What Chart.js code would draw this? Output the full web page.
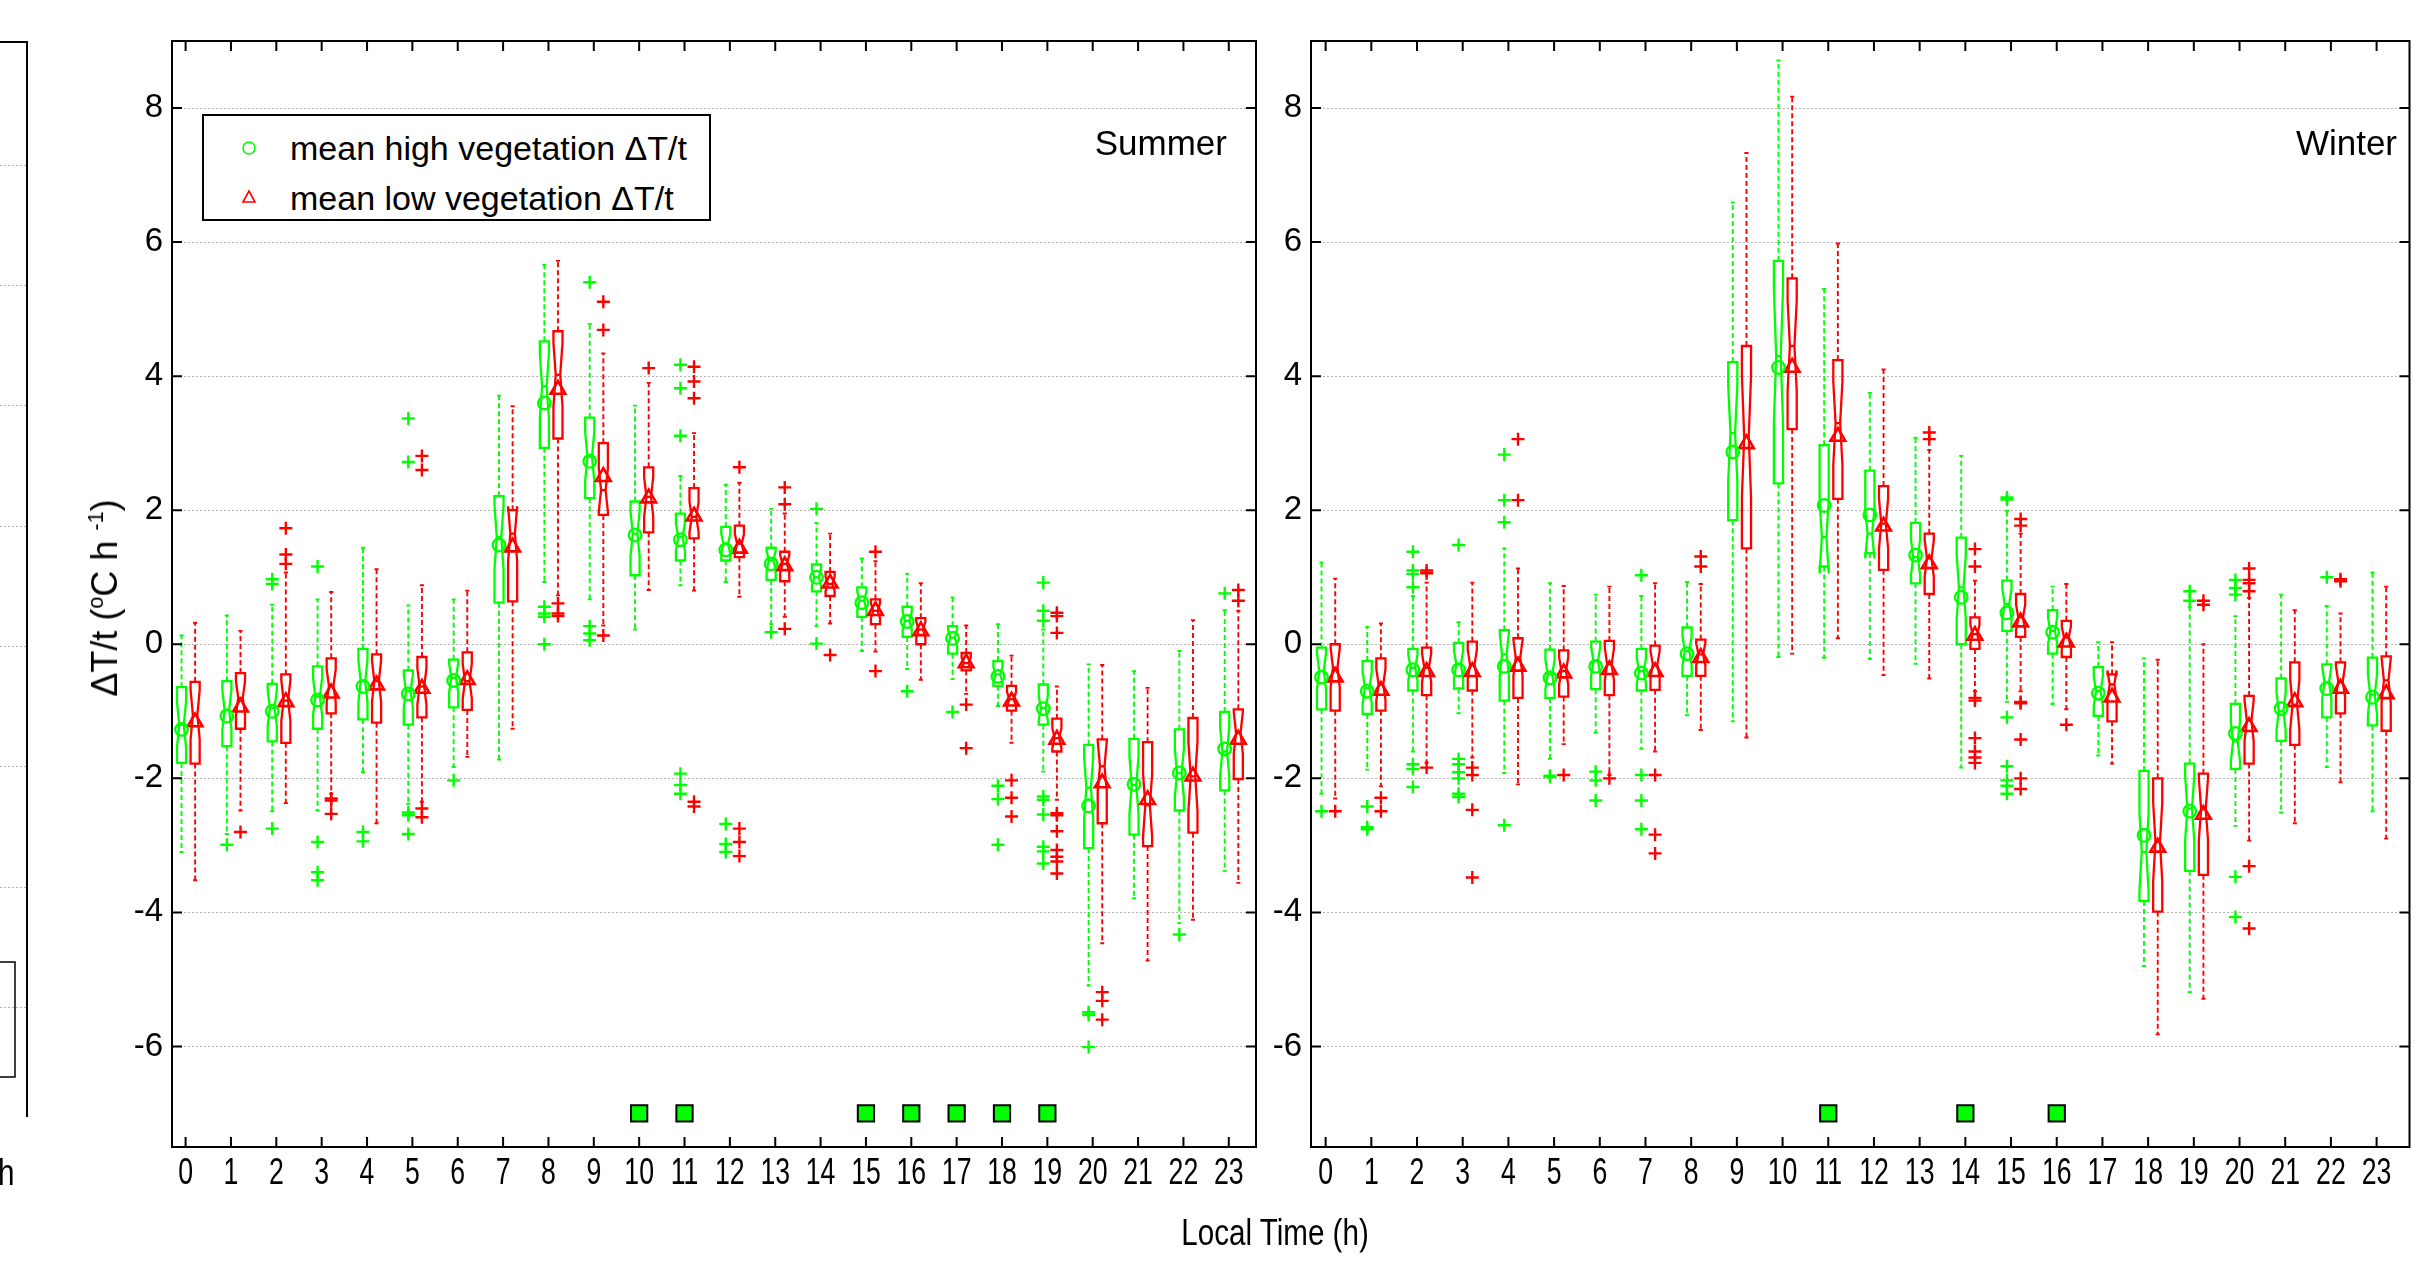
<!DOCTYPE html>
<html><head><meta charset="utf-8">
<script src="https://cdn.jsdelivr.net/npm/chart.js@4.4.1/dist/chart.umd.min.js"></script>
<style>
html,body{margin:0;padding:0;background:#fff;width:2423px;height:1263px;overflow:hidden;position:relative;font-family:'Liberation Sans',Arial,sans-serif;color:#000;}
.wrap{position:absolute;top:0;height:1263px;}
.txt{position:absolute;white-space:nowrap;line-height:1;}
sup{font-size:0.6em;vertical-align:0.65em;line-height:0;}
#legend{position:absolute;left:202px;top:114px;width:509px;height:107px;box-sizing:border-box;border:2px solid #000;background:#fff;font-size:34px;}
#legend .row{position:absolute;left:0;height:40px;display:flex;align-items:center;}
#legend svg{position:absolute;left:33px;}
#legend span{position:absolute;left:86px;white-space:nowrap;}
</style></head><body>
<canvas id="sliver" width="40" height="1263" style="position:absolute;left:0;top:0"></canvas>
<div class="wrap" style="left:0;width:1275px"><canvas id="sumChart"></canvas></div>
<div class="wrap" style="left:1200px;width:1223px"><canvas id="winChart"></canvas></div>

<div class="txt" style="left:105px;top:598px;transform:translate(-50%,-50%) rotate(-90deg);font-size:36px;">ΔT/t (<sup>o</sup>C h <sup>-1</sup>)</div>
<div class="txt" style="left:1275px;top:1232px;transform:translate(-50%,-50%) scaleX(0.8);font-size:37px;">Local Time (h)</div>
<div class="txt" style="right:1196px;top:142px;transform:translateY(-50%);font-size:35px;">Summer</div>
<div class="txt" style="right:26px;top:142px;transform:translateY(-50%);font-size:35px;">Winter</div>
<div class="txt" style="left:-4px;top:1172px;transform:translateY(-50%) scaleX(0.8);font-size:37px;">h</div>
<div id="legend">
  <div class="row" style="top:12px;width:100%"><svg width="24" height="24" viewBox="0 0 24 24"><circle cx="12" cy="12" r="6" fill="none" stroke="#00ff00" stroke-width="1.6"/></svg><span>mean high vegetation ΔT/t</span></div>
  <div class="row" style="top:62px;width:100%"><svg width="24" height="24" viewBox="0 0 24 24"><polygon points="12,5 18,16 6,16" fill="none" stroke="#ff0000" stroke-width="1.6"/></svg><span>mean low vegetation ΔT/t</span></div>
</div>

<script>
// ---------- categories / ticks ----------
const hours = [0,1,2,3,4,5,6,7,8,9,10,11,12,13,14,15,16,17,18,19,20,21,22,23];
const yTickValues = [-6,-4,-2,0,2,4,6,8];
const sigLevel = -7;
const sumSignificantHours = [10,11,15,16,17,18,19];
const winSignificantHours = [11,14,16];

// ---------- Summer, high vegetation ----------
const sumHighLo   = [-3.10,-2.83,-2.49,-2.48,-1.91,-2.38,-1.83,-1.72,0.93,0.67,0.22,0.88,0.93,0.30,0.27,-0.10,-0.37,-0.52,-0.92,-1.90,-5.09,-3.79,-4.16,-3.38];
const sumHighQ1   = [-1.77,-1.52,-1.45,-1.26,-1.12,-1.20,-0.94,0.62,2.93,2.18,1.03,1.25,1.25,0.96,0.79,0.41,0.11,-0.14,-0.62,-1.20,-3.04,-2.84,-2.48,-2.18];
const sumHighMed  = [-1.20,-0.98,-0.95,-0.78,-0.55,-0.70,-0.50,1.60,3.85,2.80,1.65,1.60,1.50,1.25,1.00,0.65,0.35,0.10,-0.45,-0.95,-2.14,-2.10,-1.92,-1.60];
const sumHighQ3   = [-0.64,-0.55,-0.59,-0.33,-0.07,-0.39,-0.23,2.21,4.52,3.38,2.13,1.95,1.75,1.44,1.19,0.85,0.56,0.27,-0.25,-0.60,-1.50,-1.41,-1.27,-1.01];
const sumHighHi   = [0.13,0.43,0.59,0.67,1.44,0.58,0.67,3.71,5.66,4.78,3.56,2.51,2.38,2.02,1.81,1.28,1.05,0.70,0.30,0.22,-0.30,-0.40,-0.10,0.51];
const sumHighMean = [-1.27,-1.07,-1.00,-0.83,-0.63,-0.74,-0.54,1.48,3.60,2.73,1.63,1.56,1.41,1.20,1.00,0.62,0.34,0.09,-0.48,-0.96,-2.41,-2.09,-1.92,-1.56];
const sumHighOut  = [[1,-2.99],[2,0.97],[2,0.90],[2,-2.75],[3,1.16],[3,-2.95],[3,-3.40],[3,-3.52],[4,-2.80],[4,-2.94],[5,3.37],[5,2.72],[5,-2.51],[5,-2.55],[5,-2.83],[6,-2.03],[8,0.56],[8,0.46],[8,0.41],[8,0.00],[9,5.40],[9,0.27],[9,0.16],[9,0.06],[11,4.17],[11,3.82],[11,3.11],[11,-1.93],[11,-2.10],[11,-2.23],[12,-2.68],[12,-2.98],[12,-3.10],[13,0.18],[14,2.02],[14,0.01],[16,-0.70],[17,-1.01],[18,-2.11],[18,-2.31],[18,-2.99],[19,0.92],[19,0.50],[19,0.35],[19,-2.27],[19,-2.32],[19,-2.54],[19,-3.02],[19,-3.09],[19,-3.27],[20,-5.49],[20,-5.53],[20,-6.01],[22,-4.33],[23,0.76]];

// ---------- Summer, low vegetation ----------
const sumLowLo   = [-3.52,-2.48,-2.37,-2.23,-2.67,-2.35,-1.68,-1.26,0.73,0.28,0.81,0.80,0.71,0.41,0.31,-0.11,-0.53,-0.74,-1.47,-2.32,-4.46,-4.72,-4.11,-3.56];
const sumLowQ1   = [-1.78,-1.26,-1.47,-1.03,-1.17,-1.09,-0.98,0.64,3.07,1.93,1.67,1.58,1.30,0.94,0.72,0.30,0.00,-0.39,-0.99,-1.60,-2.67,-3.01,-2.81,-2.01];
const sumLowMed  = [-1.05,-0.80,-0.84,-0.62,-0.55,-0.63,-0.55,1.65,4.02,2.30,2.20,1.90,1.50,1.20,0.90,0.50,0.22,-0.28,-0.82,-1.40,-1.82,-2.40,-1.97,-1.32];
const sumLowQ3   = [-0.56,-0.43,-0.45,-0.21,-0.15,-0.19,-0.12,2.00,4.67,3.00,2.64,2.33,1.77,1.38,1.08,0.67,0.39,-0.13,-0.62,-1.11,-1.42,-1.46,-1.10,-0.97];
const sumLowHi   = [0.32,0.20,1.07,0.78,1.12,0.88,0.80,3.55,5.72,4.34,3.90,3.15,2.41,1.95,1.65,1.24,0.91,0.28,-0.17,-0.63,-0.31,-0.65,0.36,0.50];
const sumLowMean = [-1.16,-0.94,-0.86,-0.73,-0.61,-0.66,-0.53,1.45,3.80,2.50,2.18,1.91,1.43,1.17,0.91,0.50,0.20,-0.28,-0.85,-1.42,-2.07,-2.32,-1.97,-1.42];
const sumLowOut  = [[1,-2.80],[2,1.73],[2,1.34],[2,1.20],[3,-2.30],[3,-2.33],[3,-2.53],[5,2.81],[5,2.60],[5,-2.45],[5,-2.58],[8,0.61],[8,0.46],[8,0.42],[9,5.11],[9,4.69],[9,0.13],[10,4.12],[11,4.14],[11,3.92],[11,3.67],[11,-2.35],[11,-2.42],[12,2.64],[12,-2.75],[12,-2.95],[12,-3.16],[13,2.34],[13,2.09],[13,0.23],[14,-0.16],[15,1.38],[15,-0.40],[17,-0.90],[17,-1.55],[18,-2.03],[18,-2.29],[18,-2.57],[19,0.47],[19,0.42],[19,0.17],[19,-2.52],[19,-2.55],[19,-2.79],[19,-3.07],[19,-3.17],[19,-3.24],[19,-3.42],[20,-5.19],[20,-5.32],[20,-5.60],[23,0.81],[23,0.65]];

// ---------- Winter, high vegetation ----------
const winHighLo   = [-2.23,-1.87,-1.60,-1.03,-1.92,-1.71,-1.32,-1.56,-1.06,-1.15,-0.19,-0.20,-0.22,-0.29,-1.84,-0.86,-0.89,-1.66,-4.80,-5.19,-2.71,-2.51,-1.83,-2.49];
const winHighQ1   = [-0.97,-1.04,-0.69,-0.66,-0.84,-0.80,-0.67,-0.69,-0.47,1.85,2.40,1.16,1.36,0.91,0.00,0.20,-0.14,-1.07,-3.83,-3.38,-1.86,-1.44,-1.09,-1.21];
const winHighMed  = [-0.40,-0.65,-0.35,-0.30,-0.15,-0.45,-0.25,-0.40,-0.10,3.15,4.30,1.60,1.65,1.30,0.85,0.60,0.20,-0.70,-3.10,-2.45,-1.45,-1.00,-0.57,-0.75];
const winHighQ3   = [-0.05,-0.25,-0.07,0.02,0.21,-0.08,0.04,-0.07,0.25,4.21,5.72,2.97,2.59,1.81,1.59,0.95,0.51,-0.34,-1.89,-1.78,-0.89,-0.51,-0.30,-0.20];
const winHighHi   = [1.22,0.26,0.72,0.33,1.43,0.91,0.74,0.72,0.93,6.59,8.71,5.30,3.75,3.08,2.81,1.99,0.86,0.03,-0.21,0.55,0.42,0.74,0.57,1.07];
const winHighMean = [-0.49,-0.70,-0.38,-0.38,-0.33,-0.50,-0.33,-0.43,-0.14,2.87,4.13,2.07,1.93,1.33,0.70,0.47,0.18,-0.73,-2.85,-2.49,-1.33,-0.96,-0.66,-0.79];
const winHighOut  = [[0,-2.49],[1,-2.42],[1,-2.73],[1,-2.76],[2,1.38],[2,1.10],[2,1.05],[2,0.85],[2,-1.79],[2,-1.86],[2,-2.13],[3,1.48],[3,-1.71],[3,-1.79],[3,-1.91],[3,-2.00],[3,-2.23],[3,-2.28],[4,2.83],[4,2.15],[4,1.82],[4,-2.70],[5,-1.96],[5,-1.98],[6,-1.90],[6,-2.03],[6,-2.33],[7,1.03],[7,-1.95],[7,-2.33],[7,-2.76],[15,2.19],[15,2.16],[15,-1.09],[15,-1.82],[15,-2.03],[15,-2.11],[15,-2.23],[19,0.79],[19,0.65],[20,0.96],[20,0.84],[20,0.74],[20,-3.47],[20,-4.07],[22,1.00]];

// ---------- Winter, low vegetation ----------
const winLowLo   = [-2.30,-2.12,-1.77,-1.69,-2.09,-1.49,-1.95,-1.60,-1.28,-1.39,-0.14,0.09,-0.46,-0.51,-0.70,-0.70,-0.97,-1.78,-5.82,-5.29,-2.93,-2.67,-2.06,-2.90];
const winLowQ1   = [-0.99,-0.99,-0.76,-0.69,-0.80,-0.78,-0.76,-0.68,-0.47,1.43,3.21,2.17,1.11,0.75,-0.07,0.11,-0.19,-1.15,-3.99,-3.44,-1.78,-1.50,-1.03,-1.29];
const winLowMed  = [-0.35,-0.60,-0.35,-0.30,-0.20,-0.40,-0.30,-0.30,-0.15,3.10,4.45,3.30,1.80,1.28,0.15,0.40,0.10,-0.60,-2.95,-2.46,-1.14,-0.90,-0.55,-0.54];
const winLowQ3   = [0.00,-0.21,-0.05,0.04,0.09,-0.09,0.05,-0.02,0.07,4.45,5.46,4.24,2.36,1.65,0.40,0.75,0.35,-0.45,-2.00,-1.93,-0.77,-0.27,-0.27,-0.18];
const winLowHi   = [0.98,0.31,0.92,0.92,1.13,0.87,0.86,0.91,0.90,7.33,8.17,5.98,4.10,2.90,0.95,1.65,0.90,0.03,-0.23,0.00,0.69,0.51,0.46,0.86];
const winLowMean = [-0.49,-0.69,-0.41,-0.41,-0.33,-0.43,-0.38,-0.41,-0.20,2.99,4.13,3.10,1.76,1.20,0.13,0.33,0.03,-0.79,-3.03,-2.54,-1.23,-0.86,-0.66,-0.74];
const winLowOut  = [[0,-2.49],[1,-2.29],[1,-2.49],[2,1.10],[2,1.06],[2,-1.84],[3,-1.84],[3,-1.95],[3,-2.47],[3,-3.48],[4,3.06],[4,2.15],[5,-1.95],[6,-2.00],[7,-1.95],[7,-2.84],[7,-3.12],[8,1.31],[8,1.16],[13,3.16],[13,3.06],[14,1.42],[14,1.16],[14,-0.80],[14,-0.84],[14,-1.40],[14,-1.60],[14,-1.69],[14,-1.77],[15,1.87],[15,1.77],[15,-0.86],[15,-0.88],[15,-1.42],[15,-2.00],[15,-2.16],[16,-1.20],[19,0.65],[19,0.59],[20,1.13],[20,0.96],[20,0.91],[20,0.79],[20,-3.31],[20,-4.24],[22,0.97],[22,0.94]];

// ---------- styles ----------
const GREEN = '#00ff00', RED = '#ff0000';
const G_OFF = -0.09, R_OFF = 0.21;
const BOX_W = 0.2, CAP_W = 0.09, NOTCH = 0.3;
const SANS = "'Liberation Sans',Arial,sans-serif";

function boxPlugin(series) {
  return {
    id: 'boxplot',
    beforeDatasetsDraw(chart) {
      const {ctx, chartArea: a, scales: {x, y}} = chart;
      ctx.save();
      ctx.beginPath(); ctx.rect(a.left, a.top, a.width, a.height); ctx.clip();
      series.forEach(s => {
        hours.forEach((h, i) => {
          const xc = h + s.off;
          const cx = x.getPixelForValue(xc);
          const hw = x.getPixelForValue(xc + BOX_W / 2) - cx;
          const cw = x.getPixelForValue(xc + CAP_W / 2) - cx;
          const iq = s.q3[i] - s.q1[i];
          const P = v => y.getPixelForValue(v);
          const pq1 = P(s.q1[i]), pq3 = P(s.q3[i]), pm = P(s.med[i]);
          const pnl = P(s.med[i] - NOTCH * iq), pnh = P(s.med[i] + NOTCH * iq);
          const pwl = P(s.lo[i]), pwh = P(s.hi[i]);
          ctx.strokeStyle = s.color;
          ctx.lineWidth = 1.9;
          ctx.setLineDash([5, 3]);
          ctx.beginPath();
          ctx.moveTo(cx, pq3); ctx.lineTo(cx, pwh);
          ctx.moveTo(cx, pq1); ctx.lineTo(cx, pwl);
          ctx.stroke();
          ctx.setLineDash([]);
          ctx.beginPath();
          ctx.moveTo(cx - cw, pwh); ctx.lineTo(cx + cw, pwh);
          ctx.moveTo(cx - cw, pwl); ctx.lineTo(cx + cw, pwl);
          ctx.stroke();
          const ih = hw * 0.5;
          ctx.lineWidth = 2.3;
          ctx.beginPath();
          ctx.moveTo(cx - hw, pq1); ctx.lineTo(cx - hw, pnl); ctx.lineTo(cx - ih, pm);
          ctx.lineTo(cx - hw, pnh); ctx.lineTo(cx - hw, pq3); ctx.lineTo(cx + hw, pq3);
          ctx.lineTo(cx + hw, pnh); ctx.lineTo(cx + ih, pm); ctx.lineTo(cx + hw, pnl);
          ctx.lineTo(cx + hw, pq1); ctx.closePath();
          ctx.stroke();
          ctx.beginPath(); ctx.moveTo(cx - ih, pm); ctx.lineTo(cx + ih, pm); ctx.stroke();
        });
      });
      ctx.restore();
    },
    afterDraw(chart) {
      const {ctx, chartArea: a, scales: {x, y}} = chart;
      ctx.save();
      ctx.strokeStyle = '#000';
      ctx.lineWidth = 2;
      ctx.strokeRect(a.left, a.top, a.width, a.height);
      ctx.beginPath();
      hours.forEach(h => {
        const px = x.getPixelForValue(h);
        ctx.moveTo(px, a.bottom); ctx.lineTo(px, a.bottom - 10);
        ctx.moveTo(px, a.top); ctx.lineTo(px, a.top + 10);
      });
      yTickValues.forEach(v => {
        const py = y.getPixelForValue(v);
        ctx.moveTo(a.left, py); ctx.lineTo(a.left + 10, py);
        ctx.moveTo(a.right, py); ctx.lineTo(a.right - 10, py);
      });
      ctx.stroke();
      // hour tick labels (condensed, as in the original figure)
      ctx.fillStyle = '#000';
      ctx.font = '36px ' + SANS;
      ctx.textAlign = 'center';
      ctx.textBaseline = 'top';
      x.ticks.forEach(t => {
        const px = x.getPixelForValue(t.value);
        ctx.save();
        ctx.translate(px, a.bottom + 9);
        ctx.scale(0.74, 1);
        ctx.fillText(String(t.value), 0, 0);
        ctx.restore();
      });
      ctx.restore();
    }
  };
}

function makePanel(id, xMin, xMax, pad, s) {
  const toPts = (vals, off) => vals.map((v, i) => ({x: hours[i] + off, y: v}));
  const outPts = (list, off) => list.map(([h, v]) => ({x: h + off, y: v}));
  const datasets = [
    {data: toPts(s.hMean, G_OFF), pointStyle: 'circle', pointRadius: 6.3, borderColor: GREEN, backgroundColor: 'rgba(0,0,0,0)', borderWidth: 2.3},
    {data: toPts(s.lMean, R_OFF), pointStyle: 'triangle', pointRadius: 8.5, borderColor: RED, backgroundColor: 'rgba(0,0,0,0)', borderWidth: 2.6},
    {data: outPts(s.hOut, G_OFF), pointStyle: 'cross', pointRadius: 6.5, borderColor: GREEN, borderWidth: 2.4},
    {data: outPts(s.lOut, R_OFF), pointStyle: 'cross', pointRadius: 6.5, borderColor: RED, borderWidth: 2.4},
    {data: s.sig.map(h => ({x: h, y: sigLevel})), pointStyle: 'rect', pointRadius: 11.5, borderColor: '#000', backgroundColor: GREEN, borderWidth: 2}
  ];
  return new Chart(document.getElementById(id), {
    type: 'scatter',
    data: {datasets},
    options: {
      responsive: true, maintainAspectRatio: false, animation: false, devicePixelRatio: 1,
      events: [],
      layout: {padding: pad},
      plugins: {legend: {display: false}, tooltip: {enabled: false}},
      scales: {
        x: {
          type: 'linear', min: xMin, max: xMax,
          afterBuildTicks: sc => { sc.ticks = hours.map(h => ({value: h})); },
          afterFit: sc => { sc.height = 60; },
          grid: {display: false, drawTicks: false},
          border: {display: false},
          ticks: {display: false}
        },
        y: {
          type: 'linear', min: -7.5, max: 9,
          afterBuildTicks: sc => { sc.ticks = yTickValues.map(v => ({value: v})); },
          afterFit: sc => { sc.width = 80; },
          grid: {display: true, drawTicks: false, color: '#b4b4b4', lineWidth: 1},
          border: {display: false, dash: [2, 2]},
          ticks: {color: '#000', font: {family: SANS, size: 33}, padding: 9, callback: v => String(v)}
        }
      }
    },
    plugins: [boxPlugin([
      {off: G_OFF, color: GREEN, lo: s.hLo, q1: s.hQ1, med: s.hMed, q3: s.hQ3, hi: s.hHi},
      {off: R_OFF, color: RED, lo: s.lLo, q1: s.lQ1, med: s.lMed, q3: s.lQ3, hi: s.lHi}
    ])]
  });
}

makePanel('sumChart', -0.3, 23.6, {left: 92, right: 19, top: 41, bottom: 56}, {
  hLo: sumHighLo, hQ1: sumHighQ1, hMed: sumHighMed, hQ3: sumHighQ3, hHi: sumHighHi, hMean: sumHighMean, hOut: sumHighOut,
  lLo: sumLowLo, lQ1: sumLowQ1, lMed: sumLowMed, lQ3: sumLowQ3, lHi: sumLowHi, lMean: sumLowMean, lOut: sumLowOut,
  sig: sumSignificantHours
});
makePanel('winChart', -0.32, 23.72, {left: 31, right: 5, top: 41, bottom: 56}, {
  hLo: winHighLo, hQ1: winHighQ1, hMed: winHighMed, hQ3: winHighQ3, hHi: winHighHi, hMean: winHighMean, hOut: winHighOut,
  lLo: winLowLo, lQ1: winLowQ1, lMed: winLowMed, lQ3: winLowQ3, lHi: winLowHi, lMean: winLowMean, lOut: winLowOut,
  sig: winSignificantHours
});

// ---------- partial neighbouring panel at the left edge ----------
(function () {
  const g = document.getElementById('sliver').getContext('2d');
  g.strokeStyle = '#000'; g.lineWidth = 2;
  g.beginPath(); g.moveTo(0, 42); g.lineTo(28, 42); g.moveTo(27, 41); g.lineTo(27, 1117); g.stroke();
  g.strokeStyle = '#b4b4b4'; g.lineWidth = 1; g.setLineDash([2, 2]);
  [165, 285, 405, 526, 646, 766, 887, 1007].forEach(py => { g.beginPath(); g.moveTo(0, py + 0.5); g.lineTo(26, py + 0.5); g.stroke(); });
  g.setLineDash([]); g.strokeStyle = '#000'; g.lineWidth = 1.5;
  g.strokeRect(-10, 962, 25, 115);
})();
</script>
</body></html>
